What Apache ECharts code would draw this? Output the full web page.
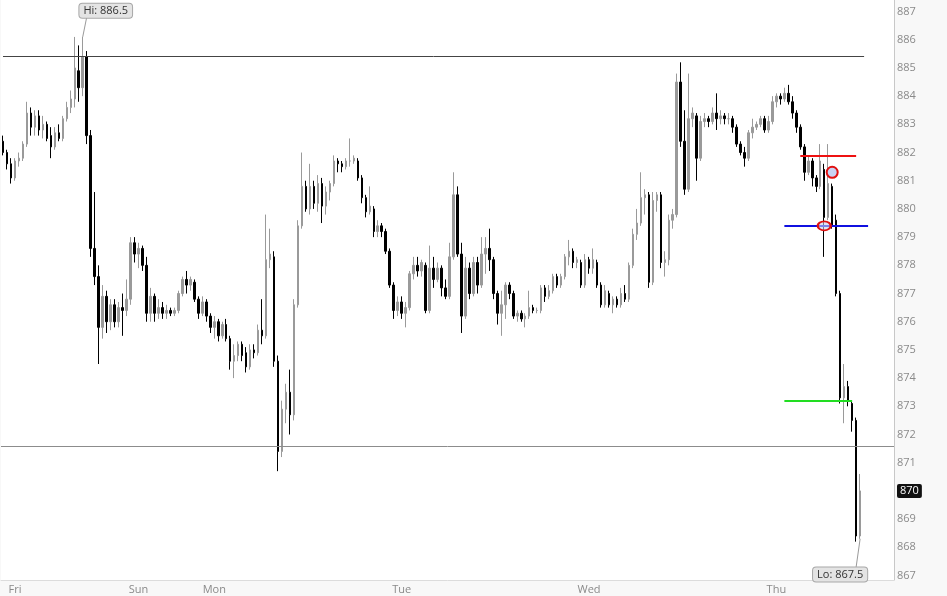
<!DOCTYPE html>
<html>
<head>
<meta charset="utf-8">
<title>chart</title>
<script src="https://cdn.jsdelivr.net/npm/echarts@6.0.0/dist/echarts.min.js"></script>
<style>
    html, body { margin: 0; padding: 0; background: #f8f8f8; }
    #main { width: 947px; height: 596px; }
</style>
</head>
<body>
<div id="main"></div>
<script>
// 每根K线: [开, 收, 低, 高]
var bars = [
    [882.4, 882.0, 881.9, 882.6], [882.0, 881.6, 881.4, 882.1], [881.6, 881.1, 880.9, 881.8], [881.1, 881.7, 881.0, 881.8],
    [881.7, 881.8, 881.5, 882.0], [881.8, 882.3, 881.7, 882.4], [882.3, 883.4, 882.2, 883.8], [883.4, 882.9, 882.6, 883.6],
    [882.9, 883.3, 882.6, 883.5], [883.3, 882.8, 882.6, 883.5], [882.8, 883.0, 882.5, 883.3], [883.0, 882.5, 882.4, 883.1],
    [882.6, 882.2, 881.8, 882.9], [882.2, 882.7, 882.1, 882.9], [882.7, 882.5, 882.4, 883.0], [882.5, 883.2, 882.4, 883.3],
    [883.2, 883.6, 883.1, 883.8], [883.6, 883.9, 883.4, 884.2], [883.9, 885.0, 883.6, 886.1], [884.9, 884.3, 883.8, 885.8],
    [884.3, 885.4, 884.0, 886.1], [885.4, 882.6, 882.3, 885.6], [882.6, 878.6, 878.3, 882.8], [878.6, 877.6, 877.3, 880.6],
    [877.6, 875.8, 874.5, 878.0], [875.8, 876.9, 875.4, 877.3], [876.9, 876.0, 875.6, 877.1], [876.0, 876.6, 875.7, 876.8],
    [876.6, 876.0, 875.8, 876.8], [876.0, 876.5, 875.8, 876.7], [876.5, 876.4, 875.5, 877.0], [876.4, 876.8, 876.2, 877.5],
    [876.8, 878.8, 876.6, 879.0], [878.8, 878.4, 878.1, 879.0], [878.4, 878.6, 877.9, 878.8], [878.6, 878.0, 877.8, 878.7],
    [878.0, 876.3, 876.0, 878.3], [876.3, 876.9, 876.0, 877.2], [876.9, 876.3, 876.0, 877.0], [876.3, 876.5, 876.1, 876.8],
    [876.5, 876.3, 876.1, 876.7], [876.3, 876.4, 876.1, 876.6], [876.4, 876.3, 876.2, 876.5], [876.3, 876.4, 876.2, 876.5],
    [876.4, 877.0, 876.3, 877.1], [877.0, 877.5, 876.9, 877.6], [877.5, 877.3, 877.0, 877.8], [877.3, 877.5, 877.1, 877.6],
    [877.4, 876.8, 876.7, 877.5], [876.8, 876.3, 876.1, 876.9], [876.3, 876.7, 876.2, 876.9], [876.7, 876.2, 876.0, 876.8],
    [876.2, 875.8, 875.6, 876.3], [875.8, 876.0, 875.4, 876.2], [876.0, 875.5, 875.3, 876.1], [875.5, 875.9, 875.4, 876.0],
    [875.9, 875.4, 875.3, 876.1], [875.4, 874.6, 874.3, 875.5], [874.6, 874.8, 874.0, 875.2], [874.8, 875.2, 874.6, 875.3],
    [875.2, 874.8, 874.6, 875.3], [874.9, 874.4, 874.2, 875.1], [874.4, 875.0, 874.3, 875.2], [875.0, 874.9, 874.7, 875.2],
    [874.9, 875.7, 874.8, 875.9], [875.7, 875.5, 875.2, 876.8], [875.5, 878.2, 875.4, 879.8], [878.2, 878.4, 877.9, 879.3],
    [878.3, 874.6, 874.4, 878.5], [874.6, 871.4, 870.7, 874.8], [871.4, 872.9, 871.2, 873.2], [872.9, 873.5, 872.4, 873.8],
    [873.5, 872.7, 872.0, 874.3], [872.7, 876.6, 872.5, 876.8], [876.6, 879.4, 876.5, 879.6], [879.4, 880.8, 879.3, 882.0],
    [880.8, 880.0, 879.9, 881.0], [880.0, 880.8, 879.8, 881.6], [880.8, 880.2, 880.0, 881.0], [880.2, 880.9, 879.9, 881.2],
    [880.9, 880.1, 879.5, 881.1], [880.1, 880.6, 879.8, 880.8], [880.6, 880.9, 880.3, 881.0], [880.9, 881.7, 880.8, 881.9],
    [881.7, 881.6, 881.3, 881.8], [881.6, 881.5, 881.3, 881.7], [881.5, 881.7, 881.4, 881.8], [881.7, 881.7, 881.5, 882.5],
    [881.7, 881.8, 881.6, 881.9], [881.7, 881.1, 881.0, 881.8], [881.1, 880.4, 880.2, 881.2], [880.4, 879.9, 879.7, 880.5],
    [879.9, 880.1, 879.8, 880.8], [880.0, 879.2, 879.0, 880.1], [879.2, 879.4, 879.0, 879.6], [879.4, 879.2, 879.0, 879.5],
    [879.2, 878.5, 878.4, 879.3], [878.5, 877.3, 877.2, 878.6], [877.3, 876.4, 876.1, 877.4], [876.4, 876.7, 876.2, 876.9],
    [876.7, 876.3, 876.1, 876.9], [876.3, 876.5, 875.8, 876.7], [876.5, 877.7, 876.4, 877.8], [877.7, 878.0, 877.5, 878.3],
    [878.0, 877.8, 877.6, 878.3], [877.8, 878.1, 877.6, 878.2], [878.0, 876.4, 876.3, 878.1], [876.4, 877.9, 876.3, 878.7],
    [877.9, 877.5, 877.2, 878.3], [877.5, 877.9, 877.4, 878.1], [877.9, 877.2, 876.9, 878.0], [877.2, 876.9, 876.8, 877.5],
    [876.9, 878.3, 876.8, 878.8], [878.3, 880.5, 878.2, 881.3], [880.5, 878.4, 878.3, 880.8], [878.4, 876.2, 875.6, 878.8],
    [876.2, 877.9, 876.1, 878.3], [877.9, 877.0, 876.8, 878.1], [877.0, 878.1, 876.9, 878.3], [878.1, 877.3, 877.0, 878.3],
    [877.3, 878.4, 877.2, 879.0], [878.4, 878.6, 877.7, 879.0], [878.6, 878.2, 877.8, 879.3], [878.2, 877.0, 876.8, 878.3],
    [877.0, 876.3, 875.9, 877.1], [876.3, 876.6, 875.5, 877.1], [876.6, 877.3, 876.1, 877.4], [877.3, 877.0, 876.8, 877.4],
    [877.0, 876.2, 876.1, 877.1], [876.2, 876.3, 876.0, 876.4], [876.3, 876.1, 876.0, 876.4], [876.1, 876.2, 875.8, 876.3],
    [876.2, 876.5, 876.1, 877.1], [876.5, 876.4, 876.3, 876.6], [876.4, 876.4, 876.3, 876.5], [876.4, 877.2, 876.3, 877.3],
    [877.2, 876.9, 876.7, 877.3], [876.9, 877.1, 876.8, 877.3], [877.1, 877.6, 877.0, 877.7], [877.6, 877.3, 877.2, 877.7],
    [877.3, 877.6, 877.2, 877.7], [877.6, 878.3, 877.5, 878.4], [878.3, 878.5, 878.0, 878.9], [878.5, 878.1, 877.9, 878.6],
    [878.1, 878.2, 877.9, 878.3], [878.1, 877.3, 877.2, 878.2], [877.3, 878.2, 877.2, 878.4], [878.2, 877.9, 877.7, 878.3],
    [877.9, 878.2, 877.7, 878.6], [878.1, 877.3, 877.2, 878.2], [877.3, 876.6, 876.5, 877.4], [876.6, 877.1, 876.5, 877.3],
    [877.0, 876.6, 876.5, 877.1], [876.6, 876.8, 876.3, 876.9], [876.8, 876.6, 876.5, 876.9], [876.6, 877.0, 876.5, 877.2],
    [877.0, 876.8, 876.7, 877.3], [876.8, 878.0, 876.7, 878.1], [878.0, 879.1, 877.9, 879.3], [879.1, 879.5, 878.9, 880.0],
    [879.5, 880.4, 879.4, 881.3], [880.4, 880.5, 879.8, 880.7], [880.5, 877.4, 877.2, 880.6], [877.4, 880.3, 877.3, 880.6],
    [880.3, 880.5, 879.9, 880.6], [880.5, 878.1, 877.9, 880.6], [878.1, 878.2, 877.6, 878.5], [878.2, 879.6, 878.0, 879.8],
    [879.6, 879.8, 879.3, 880.0], [879.8, 884.5, 879.7, 884.8], [884.5, 882.4, 882.2, 885.2], [882.4, 880.7, 880.5, 883.5],
    [880.7, 883.2, 880.6, 884.8], [883.2, 883.4, 882.9, 883.6], [883.3, 881.8, 881.0, 883.4], [881.8, 883.1, 881.7, 883.3],
    [883.1, 883.2, 882.9, 883.4], [883.2, 883.1, 882.9, 883.3], [883.1, 883.4, 883.0, 883.6], [883.4, 883.2, 882.8, 884.1],
    [883.2, 883.3, 883.0, 883.5], [883.3, 883.2, 883.0, 883.4], [883.2, 883.2, 883.0, 883.4], [883.2, 882.9, 882.7, 883.3],
    [882.9, 882.3, 882.2, 883.0], [882.3, 882.0, 881.9, 882.4], [882.0, 881.8, 881.5, 882.2], [881.8, 882.7, 881.7, 882.8],
    [882.7, 882.9, 882.5, 883.2], [882.9, 883.0, 882.8, 883.1], [883.0, 883.2, 882.9, 883.3], [883.2, 882.8, 882.7, 883.3],
    [882.8, 883.1, 882.7, 883.3], [883.1, 883.8, 883.0, 884.0], [883.8, 884.0, 883.6, 884.1], [884.0, 883.9, 883.7, 884.1],
    [883.9, 884.1, 883.8, 884.3], [884.1, 883.8, 883.7, 884.4], [883.8, 883.4, 883.2, 884.0], [883.4, 882.9, 882.7, 883.5],
    [882.9, 882.2, 882.1, 883.0], [882.2, 881.3, 881.0, 882.3], [881.3, 881.7, 881.2, 881.9], [881.7, 881.1, 880.8, 881.8],
    [881.1, 880.8, 880.6, 881.2], [880.8, 881.7, 880.7, 882.3], [881.4, 879.7, 878.3, 881.6], [879.7, 880.9, 879.6, 882.3],
    [880.8, 879.4, 879.3, 880.9], [879.6, 877.0, 876.9, 879.8], [877.0, 873.3, 873.1, 877.1], [873.3, 873.7, 872.4, 874.5],
    [873.7, 873.2, 873.0, 873.9], [873.1, 872.5, 872.1, 873.2], [872.5, 868.4, 868.2, 872.6], [868.4, 870.0, 868.3, 870.6]
];
var padBars = 8; // 右侧留白
var dayLabels = ['Fri', 'Sun', 'Mon', 'Tue', 'Wed', 'Thu'];
var dayStarts = [3, 34, 53, 100, 147, 194];
var priceTicks = [867, 868, 869, 870, 871, 872, 873, 874, 875, 876, 877, 878, 879, 880, 881, 882, 883, 884, 885, 886, 887];
var hiValue = 886.5, hiBar = 20;
var loValue = 867.5, loBar = 215;
var lastPrice = 870;
var resistance = 885.4, support = 871.6;
var redLevel = 881.9, blueLevel = 879.4, greenLevel = 873.2;
var circleMarks = [[208.25, 881.3], [206, 879.4]];

var categories = [];
for (var i = 0; i < bars.length + padBars; i++) {
    categories.push(String(i));
}

var myChart = echarts.init(document.getElementById('main'));
var axisFont = { color: '#8a8a8a', fontSize: 11, fontFamily: 'Open Sans' };
var tagLabel = {
    show: true,
    color: '#333',
    fontSize: 11,
    fontFamily: 'Open Sans',
    backgroundColor: '#e4e4e4',
    borderColor: '#a8a8a8',
    borderWidth: 1,
    borderRadius: 3,
    padding: [2, 4, 1, 4]
};

myChart.setOption({
    animation: false,
    backgroundColor: '#f8f8f8',
    grid: { left: 0, right: 53, top: 0, bottom: 16, show: true, backgroundColor: '#fff', borderWidth: 0 },
    xAxis: {
        type: 'category',
        data: categories,
        boundaryGap: true,
        axisLine: { show: true, lineStyle: { color: '#dcdcdc' } },
        axisTick: { show: false },
        axisLabel: Object.assign({
            interval: 0,
            margin: 4,
            formatter: function (val, idx) {
                var k = dayStarts.indexOf(idx);
                return k >= 0 ? dayLabels[k] : '';
            }
        }, axisFont),
        splitLine: { show: false }
    },
    yAxis: {
        type: 'value',
        position: 'right',
        min: 866.84,
        max: 887.41,
        scale: true,
        axisLine: { show: true, lineStyle: { color: '#c8c8c8' } },
        axisTick: { show: false },
        axisLabel: Object.assign({ margin: 3, customValues: priceTicks }, axisFont),
        splitLine: { show: false }
    },
    series: [{
        type: 'candlestick',
        data: bars,
        barWidth: 2,
        itemStyle: {
            color: '#9a9a9a',
            color0: '#000',
            borderColor: '#9a9a9a',
            borderColor0: '#000',
            borderWidth: 1
        },
        markLine: {
            silent: true,
            symbol: 'none',
            animation: false,
            label: { show: false },
            data: [
                [{ coord: [0, resistance], lineStyle: { color: '#444', width: 1, type: 'solid' } }, { coord: [216.25, resistance] }],
                { yAxis: support, lineStyle: { color: '#8c8c8c', width: 1, type: 'solid' } },
                [{ coord: [200, redLevel], lineStyle: { color: '#ee1111', width: 2, type: 'solid' } }, { coord: [214, redLevel] }],
                [{ coord: [196.25, blueLevel], lineStyle: { color: '#1010e0', width: 2, type: 'solid' } }, { coord: [216.75, blueLevel] }],
                [{ coord: [196.25, greenLevel], lineStyle: { color: '#22dd22', width: 2, type: 'solid' } }, { coord: [212.75, greenLevel] }],
                // Hi / Lo 引线
                [{ coord: [hiBar + 0.4, 886.1], lineStyle: { color: '#9a9a9a', width: 1, type: 'solid' } }, { coord: [hiBar + 0.9, 886.8] }],
                [{ coord: [loBar, 868.3], lineStyle: { color: '#9a9a9a', width: 1, type: 'solid' } }, { coord: [loBar - 0.8, 867.3] }],
                // 最新价
                {
                    yAxis: lastPrice,
                    lineStyle: { color: 'rgba(0,0,0,0)', width: 0 },
                    label: {
                        show: true,
                        position: 'end',
                        distance: 3,
                        formatter: String(lastPrice),
                        color: '#fff',
                        backgroundColor: '#111',
                        padding: [2, 3, 1, 3],
                        borderRadius: 2,
                        fontSize: 11,
                        fontFamily: 'Open Sans'
                    }
                }
            ]
        },
        markPoint: {
            silent: true,
            animation: false,
            data: [
                {
                    coord: [hiBar, hiValue],
                    symbolSize: 0,
                    label: Object.assign({ formatter: 'Hi: ' + hiValue, offset: [23, -15] }, tagLabel)
                },
                {
                    coord: [loBar, loValue],
                    symbolSize: 0,
                    label: Object.assign({ formatter: 'Lo: ' + loValue, offset: [-20, 13] }, tagLabel)
                },
                {
                    coord: circleMarks[0],
                    symbol: 'circle',
                    symbolSize: 11,
                    itemStyle: { color: '#c9d2f2', borderColor: '#e01010', borderWidth: 2 },
                    label: { show: false }
                },
                {
                    coord: circleMarks[1],
                    symbol: 'circle',
                    symbolSize: [13, 9],
                    itemStyle: { color: 'rgba(200,210,240,0.6)', borderColor: '#e01010', borderWidth: 2 },
                    label: { show: false }
                }
            ]
        }
    }]
});
</script>
</body>
</html>
